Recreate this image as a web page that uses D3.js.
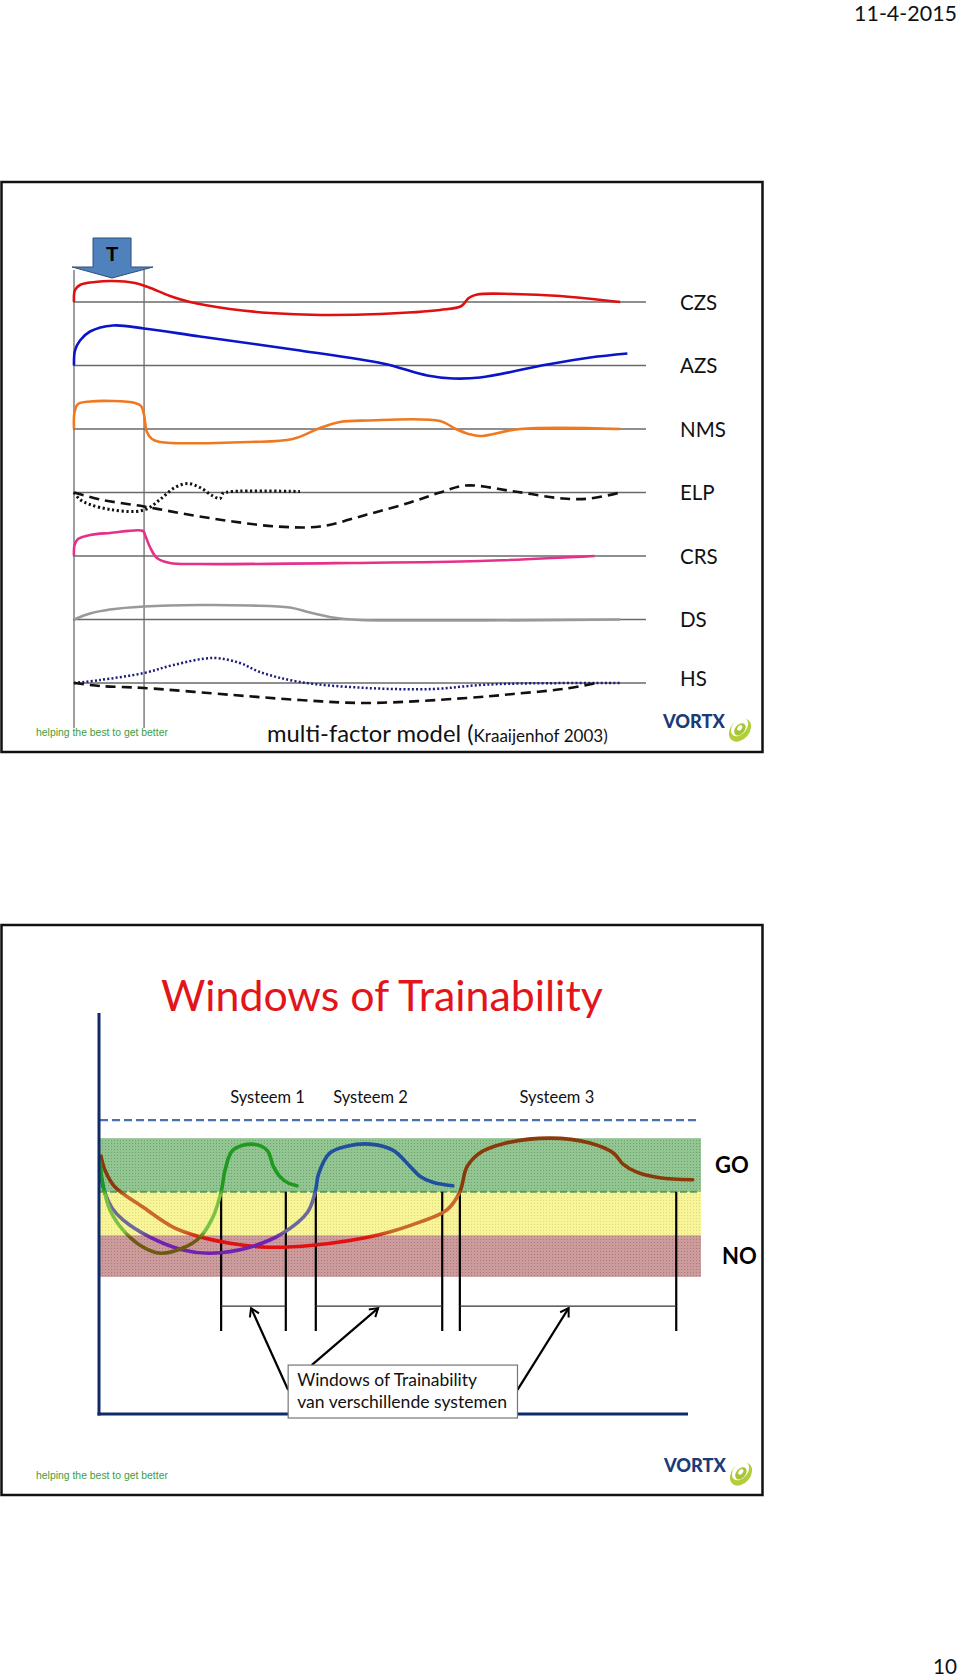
<!DOCTYPE html>
<html><head><meta charset="utf-8">
<script src="https://cdn.jsdelivr.net/npm/d3@7"></script>
<style>body{margin:0;background:#fff}svg{display:block}</style>
</head><body>
<svg id="c" width="960" height="1680"></svg>
<script>
// ---------------- DATA: multi-factor model ----------------
const factorRows = ["CZS","AZS","NMS","ELP","CRS","DS","HS"];
const trainingPeriod = [0, 4.9];      // time units
const trainingArrowT = 2.66;
const timeDomain = [0, 40];
// [time, deviation from baseline]
const czs = [[0,0],[0.07,1.2],[0.42,1.7],[1.47,2.0],[2.66,2.1],[4.27,1.9],[5.17,1.5],[6.71,0.6],[8.11,0],[10.9,-0.7],[13.7,-1.1],[17.2,-1.3],[21.4,-1.2],[25.6,-0.8],[27.1,-0.4],[27.6,0.4],[28.2,0.75],[30.7,0.8],[34.0,0.6],[38.2,0]];
const azs = [[0,0],[0.07,1.5],[0.42,2.5],[1.12,3.4],[2.73,4.0],[4.9,3.7],[8.81,2.9],[15.8,1.5],[21.6,0.2],[24.7,-1.0],[26.5,-1.3],[28.4,-1.2],[33.1,0.1],[36.1,0.8],[38.7,1.2]];
const nms = [[0,0],[0.04,1.7],[0.28,2.5],[1.12,2.75],[2.73,2.8],[4.27,2.6],[4.69,2.3],[4.9,1.4],[5.1,-0.3],[5.45,-1.0],[6.01,-1.3],[12.3,-1.3],[15.3,-1.0],[17.2,0.1],[18.6,0.7],[20.5,0.85],[25.6,0.8],[26.7,0.0],[27.6,-0.5],[28.4,-0.7],[31.2,0],[38.2,0]];
const elpDashed = [[0,0],[1.82,-0.7],[4.9,-1.4],[7.97,-2.2],[11.1,-2.9],[14.2,-3.4],[17.2,-3.4],[20.5,-2.2],[23.5,-1.0],[25.6,0],[27.4,0.7],[30.8,0.1],[34.2,-0.6],[36.1,-0.6],[38.2,0]];
const elpDotted = [[0,0],[0.42,-0.7],[1.12,-1.2],[2.52,-1.7],[4.27,-1.9],[5.17,-1.6],[6.01,-0.7],[7.06,0.5],[7.97,0.9],[8.81,0.5],[9.65,-0.3],[10.21,-0.6],[10.4,-0.1],[11.05,0.1],[15.8,0.1]];
const crs = [[0,0],[0.04,1.1],[0.28,1.7],[1.12,2.1],[2.52,2.3],[4.83,2.5],[4.97,2.1],[5.31,0.9],[5.8,-0.2],[6.71,-0.7],[8.81,-0.8],[19.3,-0.7],[28.4,-0.5],[36.4,0]];
const ds = [[0,0],[1.12,0.6],[2.52,1.0],[4.9,1.3],[8.81,1.45],[12.3,1.4],[15.1,1.2],[16.5,0.7],[18.1,0.2],[20.0,-0.05],[22.8,-0.1],[28.4,-0.1],[38.2,0]];
const hsDotted = [[0,0],[1.82,0.3],[4.9,1.0],[6.95,1.8],[9.72,2.5],[11.6,2.0],[13.0,1.1],[15.8,0.1],[20.5,-0.5],[25.1,-0.6],[28.4,-0.2],[31.2,-0.05],[38.3,0]];
const hsDashed = [[0,0],[1.82,-0.3],[4.9,-0.5],[11.1,-1.2],[15.8,-1.7],[20.5,-2.0],[28.4,-1.4],[30.7,-1.1],[34.2,-0.6],[36.6,0]];

// ---------------- DATA: windows of trainability ----------------
const systemNames = ["Systeem 1","Systeem 2","Systeem 3"];
const systemLabelU = [28.5, 46.0, 77.7];
const systemLabelV = 7.9;
const readinessLevel = 7.33;
const zones = [
  {name:"NO", from:3.42, to:4.46},
  {name:"MID", from:4.46, to:5.54},
  {name:"GO", from:5.54, to:6.88}
];
const sys1 = [[0,6.28],[0.51,5.71],[1.7,5.09],[3.91,4.59],[6.8,4.21],[10.2,4.01],[14.1,4.14],[17.0,4.41],[19.2,4.91],[20.6,5.54],[21.3,6.1],[22.6,6.58],[25.9,6.73],[28.4,6.58],[29.5,6.17],[30.6,5.92],[32.0,5.76],[33.5,5.69]];
const sys2 = [[0,6.13],[0.68,5.59],[2.04,5.14],[3.91,4.84],[8.5,4.41],[14.1,4.09],[18.7,4.01],[25.5,4.16],[31.1,4.51],[35.3,5.03],[36.6,5.54],[37.2,6.0],[39.1,6.51],[42.0,6.68],[45.9,6.73],[49.8,6.58],[52.7,6.18],[54.4,5.93],[56.6,5.78],[60.0,5.69]];
const sys3 = [[0.17,6.43],[0.85,6.08],[2.55,5.66],[7.3,5.16],[12.4,4.66],[16.5,4.44],[22.1,4.26],[28.4,4.16],[36.2,4.21],[47.1,4.46],[53.9,4.76],[59.0,5.09],[61.2,5.54],[62.4,6.16],[64.6,6.51],[68.9,6.75],[76.5,6.88],[83.3,6.76],[87.3,6.51],[88.9,6.24],[91.3,6.03],[95.2,5.89],[100.8,5.84]];
const windowsU = [[20.6,31.6],[36.7,58.2],[61.2,98.0]];
const windowTop = 5.54, windowBottom = 2.07, windowBar = 2.69;
const arrowTips = [[25.7,2.64],[47.3,2.64],[79.7,2.64]];
const arrowTails = [[32.0,0.6],[36.0,1.22],[71.0,0.6]];
const noteBox = {u0:32.0, u1:71.0, v0:-0.1, v1:1.22};
const noteLines = ["Windows of Trainability","van verschillende systemen"];

// ---------------- DRAW ----------------
const svg = d3.select("#c");
const FONT = "Lato, 'Open Sans', sans-serif";
function fit(sel, w){ const L = sel.node().getComputedTextLength(); const fs = parseFloat(sel.attr("font-size")); sel.attr("font-size", fs*w/L); return sel; }

svg.append("rect").attr("width",960).attr("height",1680).attr("fill","#fff");
const date = svg.append("text").attr("x",957).attr("y",21).attr("text-anchor","end").attr("font-family",FONT).attr("font-size",24).attr("fill","#111").text("11-4-2015");
fit(date,103);
const pg = svg.append("text").attr("x",957).attr("y",1674).attr("text-anchor","end").attr("font-family",FONT).attr("font-size",23).attr("fill","#111").text("10");
fit(pg,24);

function logo(g, x, y){
  const v = g.append("text").attr("x",x).attr("y",y).attr("font-family",FONT).attr("font-weight",900).attr("font-size",16).attr("fill","#1b3a78").text("VORTX");
  fit(v,62);
  const cx = x+77, cy = y+2;
  const s = g.append("g").attr("transform",`translate(${cx},${cy}) rotate(-50)`);
  s.append("ellipse").attr("rx",13).attr("ry",9.5).attr("fill","#b2ce3a");
  s.append("ellipse").attr("cx",2).attr("cy",-2.2).attr("rx",10.5).attr("ry",7).attr("fill","#fff");
  s.append("ellipse").attr("cx",0.5).attr("cy",-0.5).attr("rx",7).attr("ry",4.6).attr("fill","#a6c534");
  s.append("ellipse").attr("cx",1.5).attr("cy",-1.5).attr("rx",3.2).attr("ry",2).attr("fill","#fff");
}
function tagline(g, x, y){
  const t = g.append("text").attr("x",x).attr("y",y).attr("font-family","'Liberation Sans', Arial, sans-serif").attr("font-size",11).attr("fill","#3d9e3d").text("helping the best to get better");
  fit(t,132);
}

// ---- Panel 1 ----
const p1 = svg.append("g");
p1.append("rect").attr("x",1.5).attr("y",182).attr("width",761).attr("height",570).attr("fill","none").attr("stroke","#111").attr("stroke-width",2.5);
const xT = d3.scaleLinear().domain(timeDomain).range([74,646]);
const rowY = d3.scalePoint().domain(factorRows).range([302,683]);
const dev = d3.scaleLinear().domain([-1,1]).range([10,-10]);

p1.selectAll("line.base").data(factorRows).join("line").attr("class","base")
  .attr("x1",xT(0)-1).attr("x2",xT(40)).attr("y1",d=>rowY(d)).attr("y2",d=>rowY(d))
  .attr("stroke","#6a6a6a").attr("stroke-width",1.3);
p1.selectAll("line.vt").data(trainingPeriod).join("line").attr("class","vt")
  .attr("x1",d=>xT(d)).attr("x2",d=>xT(d)).attr("y1",270).attr("y2",728)
  .attr("stroke","#6a6a6a").attr("stroke-width",1.3);
p1.selectAll("text.lab").data(factorRows).join("text").attr("class","lab")
  .attr("x",680).attr("y",d=>rowY(d)+(d==="HS"?2.5:7.5))
  .attr("font-family",FONT).attr("font-size",20.5).attr("fill","#111").text(d=>d);

const series = [
  {row:"CZS", data:czs, color:"#e01010", w:2.6},
  {row:"AZS", data:azs, color:"#0a14c8", w:2.6},
  {row:"NMS", data:nms, color:"#f07820", w:2.6},
  {row:"ELP", data:elpDashed, color:"#111", w:2.6, dash:"10 6"},
  {row:"ELP", data:elpDotted, color:"#111", w:3, dash:"2.2 2.6"},
  {row:"CRS", data:crs, color:"#e6308a", w:2.6},
  {row:"DS", data:ds, color:"#999", w:2.6},
  {row:"HS", data:hsDotted, color:"#1c1c7a", w:2.5, dash:"2 2.2"},
  {row:"HS", data:hsDashed, color:"#111", w:2.6, dash:"10 6"}
];
series.forEach(s=>{
  const line = d3.line().x(d=>xT(d[0])).y(d=>rowY(s.row)+dev(d[1])).curve(d3.curveCatmullRom.alpha(0.5));
  p1.append("path").attr("d",line(s.data)).attr("fill","none").attr("stroke",s.color)
    .attr("stroke-width",s.w).attr("stroke-dasharray",s.dash||null).attr("stroke-linecap","butt").attr("stroke-linejoin","round");
});
{
  const cx = xT(trainingArrowT);
  const pts = [[cx-19,238],[cx+19,238],[cx+19,267],[cx+41,267],[cx,278],[cx-40,267],[cx-19,267]];
  p1.append("polygon").attr("points",pts.map(p=>p.join(",")).join(" ")).attr("fill","#4f81bd").attr("stroke","#2f4f78").attr("stroke-width",1);
  p1.append("text").attr("x",cx).attr("y",261).attr("text-anchor","middle").attr("font-family","'Liberation Sans', Arial, sans-serif")
    .attr("font-weight","bold").attr("font-size",20).attr("fill","#000").text("T");
}
tagline(p1,36,736);
{
  const t = p1.append("text").attr("x",267).attr("y",742).attr("font-family",FONT).attr("fill","#111");
  t.append("tspan").attr("font-size",23).text("multi-factor model (");
  t.append("tspan").attr("font-size",16.5).text("Kraaijenhof 2003)");
  const L = t.node().getComputedTextLength();
  const k = 341/L;
  t.selectAll("tspan").each(function(){ const s=d3.select(this); s.attr("font-size", parseFloat(s.attr("font-size"))*k); });
}
logo(p1,663,728);

// ---- Panel 2 ----
const p2 = svg.append("g");
p2.append("rect").attr("x",1.5).attr("y",925).attr("width",761).attr("height",570).attr("fill","none").attr("stroke","#111").attr("stroke-width",2.5);
const title = p2.append("text").attr("x",161).attr("y",1011).attr("font-family",FONT).attr("font-size",44).attr("fill","#e2151b").text("Windows of Trainability");
fit(title,442);

const xU = d3.scaleLinear().domain([0,100]).range([100,688]);
const yV = d3.scaleLinear().domain([0,10]).range([1414,1013]);

const defs = svg.append("defs");
const zoneFill = {NO:["#cc9c9c","#ad7878"], MID:["#f7f49a","#e3dc72"], GO:["#93c593","#6aa46a"]};
Object.entries(zoneFill).forEach(([k,[b,d]])=>{
  const p = defs.append("pattern").attr("id","pat"+k).attr("width",3).attr("height",3).attr("patternUnits","userSpaceOnUse");
  p.append("rect").attr("width",3).attr("height",3).attr("fill",b);
  p.append("rect").attr("width",1).attr("height",1).attr("fill",d);
});
p2.selectAll("rect.zone").data(zones).join("rect").attr("class","zone")
  .attr("x",xU(0)).attr("width",701-xU(0)).attr("y",d=>yV(d.to)).attr("height",d=>yV(d.from)-yV(d.to))
  .attr("fill",d=>`url(#pat${d.name})`);
p2.append("line").attr("x1",xU(0)).attr("x2",699).attr("y1",yV(zones[2].from)).attr("y2",yV(zones[2].from))
  .attr("stroke","#5c9a5c").attr("stroke-width",2).attr("stroke-dasharray","7 3");
p2.append("line").attr("x1",xU(0)).attr("x2",698).attr("y1",yV(readinessLevel)).attr("y2",yV(readinessLevel))
  .attr("stroke","#4a72b0").attr("stroke-width",2.3).attr("stroke-dasharray","8 4");
p2.selectAll("text.sys").data(systemNames).join("text").attr("class","sys")
  .attr("x",(d,i)=>xU(systemLabelU[i])).attr("y",yV(systemLabelV)+6).attr("text-anchor","middle")
  .attr("font-family",FONT).attr("font-size",16.5).attr("fill","#111").text(d=>d);
p2.append("text").attr("x",715).attr("y",yV((zones[2].from+zones[2].to)/2)+8).attr("font-family",FONT).attr("font-weight","bold").attr("font-size",22).attr("fill","#000").text("GO");
p2.append("text").attr("x",722).attr("y",yV((zones[0].from+zones[0].to)/2)+8).attr("font-family",FONT).attr("font-weight","bold").attr("font-size",22).attr("fill","#000").text("NO");

const sysColors = [
  ["#1e9a1e","#7cc242","#6e5a10"],
  ["#1f4f9e","#6a6a9e","#7222b0"],
  ["#8a3a0a","#c8682a","#e21010"]
];
sysColors.forEach((c,i)=>{
  const g = defs.append("linearGradient").attr("id","sg"+i).attr("gradientUnits","userSpaceOnUse")
    .attr("x1",0).attr("x2",0).attr("y1",yV(6.9)).attr("y2",yV(3.4));
  const yTop = yV(6.9), yBot = yV(3.4), span = yBot-yTop;
  const o = v => (yV(v)-yTop)/span;
  [[0,c[0]],[o(5.6),c[0]],[o(5.45),c[1]],[o(4.55),c[1]],[o(4.4),c[2]],[1,c[2]]].forEach(([off,col])=>{
    g.append("stop").attr("offset",off).attr("stop-color",col);
  });
});
windowsU.forEach(w=>{
  w.forEach(u=>{
    p2.append("line").attr("x1",xU(u)).attr("x2",xU(u)).attr("y1",yV(windowTop)).attr("y2",yV(windowBottom))
      .attr("stroke","#000").attr("stroke-width",2.2);
  });
  p2.append("line").attr("x1",xU(w[0])).attr("x2",xU(w[1])).attr("y1",yV(windowBar)).attr("y2",yV(windowBar))
    .attr("stroke","#333").attr("stroke-width",1.3);
});
const sysData = [sys1, sys2, sys3];
const sysLine = d3.line().x(d=>xU(d[0])).y(d=>yV(d[1])).curve(d3.curveCatmullRom.alpha(0.5));
[2,1,0].forEach(i=>{
  p2.append("path").attr("d",sysLine(sysData[i])).attr("fill","none").attr("stroke",`url(#sg${i})`)
    .attr("stroke-width",3.6).attr("stroke-linecap","round");
});
p2.append("line").attr("x1",xU(0)-1).attr("x2",xU(0)-1).attr("y1",yV(10)).attr("y2",yV(0)+1.5).attr("stroke","#0f2a6a").attr("stroke-width",3);
p2.append("line").attr("x1",xU(0)-2.5).attr("x2",xU(100)).attr("y1",yV(0)).attr("y2",yV(0)).attr("stroke","#0f2a6a").attr("stroke-width",3.2);
const mk = defs.append("marker").attr("id","ah").attr("markerUnits","userSpaceOnUse").attr("markerWidth",14).attr("markerHeight",14)
  .attr("viewBox","-10 -7 12 14").attr("refX",0).attr("refY",0).attr("orient","auto");
mk.append("path").attr("d","M-8,-5 L0,0 L-8,5").attr("fill","none").attr("stroke","#000").attr("stroke-width",2);
arrowTips.forEach((t,i)=>{
  const a = arrowTails[i];
  p2.append("line").attr("x1",xU(a[0])).attr("y1",yV(a[1])).attr("x2",xU(t[0])).attr("y2",yV(t[1]))
    .attr("stroke","#000").attr("stroke-width",2.2).attr("marker-end","url(#ah)");
});
p2.append("rect").attr("x",xU(noteBox.u0)).attr("y",yV(noteBox.v1)).attr("width",xU(noteBox.u1)-xU(noteBox.u0)).attr("height",yV(noteBox.v0)-yV(noteBox.v1))
  .attr("fill","#fff").attr("stroke","#777").attr("stroke-width",1.2);
noteLines.forEach((s,i)=>{
  const t = p2.append("text").attr("x",xU(noteBox.u0)+9).attr("y",yV(noteBox.v1)+21+i*22).attr("font-family",FONT).attr("font-size",17).attr("fill","#111").text(s);
  fit(t, i===0?180:210);
});
tagline(p2,36,1479);
logo(p2,664,1472);
</script>
</body></html>
